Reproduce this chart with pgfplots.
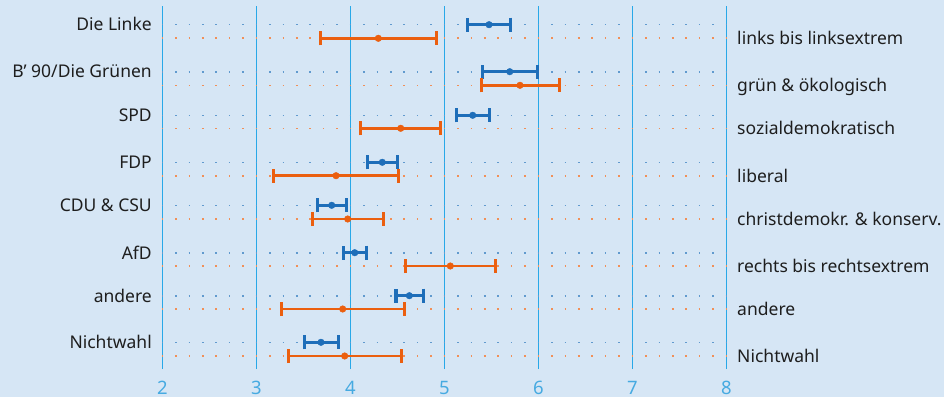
\documentclass[border=0pt]{standalone}
\usepackage{pgfplots}
\pgfplotsset{compat=1.18}
\usepackage{pgfplotstable}
\usepackage{fontspec}
\setmainfont{Noto Sans}

\definecolor{bg}{RGB}{214,230,245}
\definecolor{gridc}{RGB}{40,168,232}
\definecolor{cblue}{RGB}{30,110,185}
\definecolor{corange}{RGB}{235,95,15}
\definecolor{tickc}{RGB}{70,170,225}
\definecolor{txt}{RGB}{30,30,30}
\newcommand\fs{\fontsize{17.5}{20}\selectfont}

\pgfplotstableread{
pos lo m hi
372.3 5.243 5.474 5.700
325.3 5.402 5.694 5.987
281.7 5.126 5.300 5.477
234.7 4.179 4.338 4.498
191.7 3.647 3.800 3.955
144.3 3.923 4.045 4.168
101.3 4.484 4.626 4.774
54.7 3.509 3.686 3.870
}\blueT

\pgfplotstableread{
pos lo m hi
358.7 3.679 4.296 4.913
311.7 5.391 5.803 6.221
268.7 4.104 4.534 4.955
221.3 3.179 3.846 4.509
178.0 3.594 3.970 4.349
131.0 4.583 5.062 5.540
88.0 3.264 3.917 4.572
41.0 3.338 3.938 4.540
}\orangeT

\begin{document}
\begin{tikzpicture}
% background (axis box lower-left corner sits at the origin)
\fill[bg] (-162.5pt,-28pt) rectangle (781.5pt,369pt);
\begin{axis}[
  anchor=south west, at={(0pt,0pt)},
  x=94pt, y=1pt,
  xmin=2, xmax=8, ymin=28, ymax=391,
  clip=false,
  axis line style={draw=none},
  tick style={draw=none},
  major tick length=0pt,
  xtick={2,3,4,5,6,7,8},
  ytick=\empty,
  xticklabel style={anchor=base, inner sep=0pt, yshift=-25pt, text=tickc, font=\fontsize{18.5}{20}\selectfont},
  /pgf/number format/assume math mode=true,
]
% vertical lines
\pgfplotsinvokeforeach{2,3,4,5,6,7,8}{
  \draw[gridc, line width=1.4pt] (axis cs:#1,28) -- (axis cs:#1,391);
}
% dotted row lines
\pgfplotsinvokeforeach{372.3,325.3,281.7,234.7,191.7,144.3,101.3,54.7}{
  \draw[cblue!70, line width=1.6pt, dash pattern=on 1.6pt off 11.8286pt, dash phase=0.8pt] (axis cs:2,#1) -- (axis cs:8,#1);
}
\pgfplotsinvokeforeach{358.7,311.7,268.7,221.3,178.0,131.0,88.0,41.0}{
  \draw[corange!70, line width=1.6pt, dash pattern=on 1.6pt off 11.8286pt, dash phase=0.8pt] (axis cs:2,#1) -- (axis cs:8,#1);
}
% series
\addplot[only marks, mark=*, mark size=3.3pt, color=cblue, mark options={fill=cblue, draw=cblue},
  error bars/.cd, x dir=both, x explicit,
  error bar style={line width=2.8pt, cblue},
  error mark options={rotate=90, line width=3.2pt, mark size=7pt, cblue}]
  table[x=m, y=pos, x error minus expr=\thisrow{m}-\thisrow{lo}, x error plus expr=\thisrow{hi}-\thisrow{m}] {\blueT};
\addplot[only marks, mark=*, mark size=3.3pt, color=corange, mark options={fill=corange, draw=corange},
  error bars/.cd, x dir=both, x explicit,
  error bar style={line width=2.8pt, corange},
  error mark options={rotate=90, line width=3.2pt, mark size=7pt, corange}]
  table[x=m, y=pos, x error minus expr=\thisrow{m}-\thisrow{lo}, x error plus expr=\thisrow{hi}-\thisrow{m}] {\orangeT};
% left labels
\begin{scope}[every node/.style={anchor=base east, inner sep=0pt, font=\fs, text=txt}]
\node at (axis cs:1.888,366.0) {Die Linke};
\node at (axis cs:1.888,319.0) {B’ 90/Die Grünen};
\node at (axis cs:1.888,275.4) {SPD};
\node at (axis cs:1.888,228.4) {FDP};
\node at (axis cs:1.888,185.4) {CDU \& CSU};
\node at (axis cs:1.888,138.0) {AfD};
\node at (axis cs:1.888,95.0) {andere};
\node at (axis cs:1.888,48.4) {Nichtwahl};
\end{scope}
% right labels
\begin{scope}[every node/.style={anchor=base west, inner sep=0pt, font=\fs, text=txt}]
\node at (axis cs:8.112,352.4) {links bis linksextrem};
\node at (axis cs:8.112,305.4) {grün \& ökologisch};
\node at (axis cs:8.112,262.4) {sozialdemokratisch};
\node at (axis cs:8.112,215.0) {liberal};
\node at (axis cs:8.112,171.7) {christdemokr. \& konserv.};
\node at (axis cs:8.112,124.7) {rechts bis rechtsextrem};
\node at (axis cs:8.112,81.7) {andere};
\node at (axis cs:8.112,34.7) {Nichtwahl};
\end{scope}
\end{axis}
\end{tikzpicture}
\end{document}
